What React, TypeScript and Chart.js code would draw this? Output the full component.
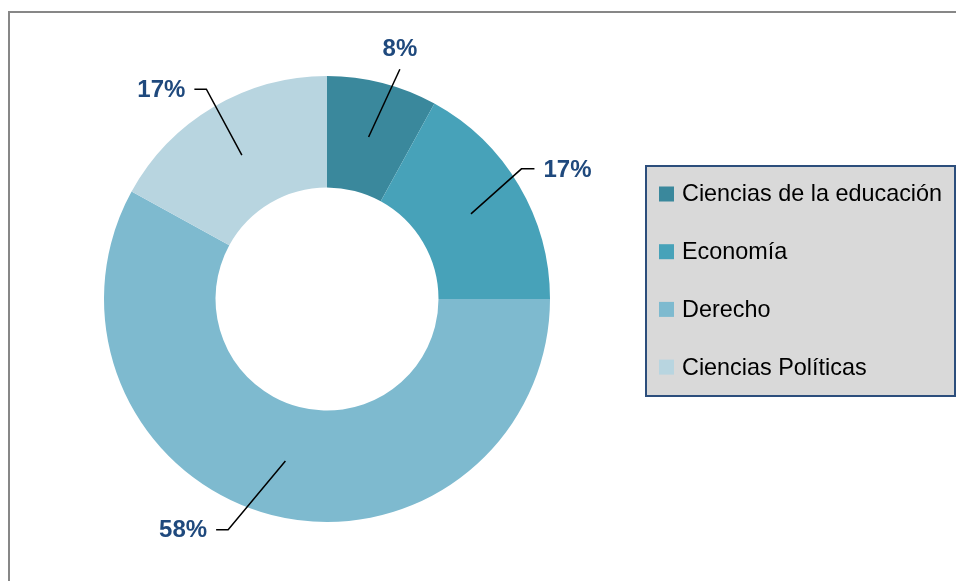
import React, { useEffect, useRef } from "react";
import { Chart, registerables } from "chart.js";

Chart.register(...registerables);

const categories = ["Ciencias de la educación", "Economía", "Derecho", "Ciencias Políticas"];
const shares = [8, 17, 58, 17];
const colors = ["#3A889C", "#47A2B9", "#7EBACF", "#B8D5E0"];

// label layout (polar elbow offsets relative to slice middle)
const labelAngleShift = [3.2, -3.2, 8.8, 0.7];
const labelRadius = [241, 234, 251, 242];
const labelSide = ["top", "right", "left", "left"];

const W = 956;
const H = 581;

const framePlugin = {
  id: "frame",
  beforeDraw(chart: any) {
    const ctx = chart.ctx;
    ctx.save();
    ctx.fillStyle = "#ffffff";
    ctx.fillRect(0, 0, W, H);
    ctx.strokeStyle = "#878787";
    ctx.lineWidth = 2;
    ctx.strokeRect(9, 12, 2000, 2000);
    ctx.restore();
  },
};

const labelsPlugin = {
  id: "sliceLabels",
  afterDatasetsDraw(chart: any) {
    const ctx = chart.ctx;
    const meta = chart.getDatasetMeta(0);
    ctx.save();
    meta.data.forEach((arc: any, i: number) => {
      const { x, y, startAngle, endAngle, innerRadius, outerRadius } = arc.getProps(
        ["x", "y", "startAngle", "endAngle", "innerRadius", "outerRadius"],
        true
      );
      const mid = (startAngle + endAngle) / 2;
      const rIn = (innerRadius + outerRadius) / 2;
      const p0x = x + Math.cos(mid) * rIn;
      const p0y = y + Math.sin(mid) * rIn;
      const a2 = mid + (labelAngleShift[i] * Math.PI) / 180;
      const ex = x + Math.cos(a2) * labelRadius[i];
      const ey = y + Math.sin(a2) * labelRadius[i];
      ctx.strokeStyle = "#000000";
      ctx.lineWidth = 1.5;
      ctx.beginPath();
      ctx.moveTo(p0x, p0y);
      ctx.lineTo(ex, ey);
      let tx = ex;
      let ty = ey;
      const side = labelSide[i];
      if (side === "right") {
        ctx.lineTo(ex + 13, ey);
        tx = ex + 22;
        ty = ey + 2;
      } else if (side === "left") {
        ctx.lineTo(ex - 12, ey);
        tx = ex - 21;
        ty = ey + 1;
      } else {
        tx = ex;
        ty = ey - 20;
      }
      ctx.stroke();
      ctx.fillStyle = "#1F497D";
      ctx.font = "bold 24px 'Liberation Sans', Arial, sans-serif";
      ctx.textBaseline = "middle";
      ctx.textAlign = side === "right" ? "left" : side === "left" ? "right" : "center";
      ctx.fillText(`${shares[i]}%`, tx, ty);
    });
    ctx.restore();
  },
};

const legendPlugin = {
  id: "boxLegend",
  afterDraw(chart: any) {
    const ctx = chart.ctx;
    ctx.save();
    const bx = 646, by = 166, bw = 309, bh = 230;
    ctx.fillStyle = "#D9D9D9";
    ctx.fillRect(bx, by, bw, bh);
    ctx.strokeStyle = "#2C4E7C";
    ctx.lineWidth = 2;
    ctx.strokeRect(bx, by, bw, bh);
    ctx.font = "23.4px 'Liberation Sans', Arial, sans-serif";
    ctx.textBaseline = "middle";
    ctx.textAlign = "left";
    categories.forEach((c, i) => {
      const cy = 194 + i * 57.7;
      ctx.fillStyle = colors[i];
      ctx.fillRect(659, cy - 7.5, 15, 15);
      ctx.fillStyle = "#000000";
      ctx.fillText(c, 682, cy + 1);
    });
    ctx.restore();
  },
};

export default function App() {
  const ref = useRef<HTMLCanvasElement | null>(null);
  useEffect(() => {
    document.body.style.margin = "0";
    if (!ref.current) return;
    const chart = new Chart(ref.current, {
      type: "doughnut",
      data: {
        labels: categories,
        datasets: [
          {
            data: shares,
            backgroundColor: colors,
            borderWidth: 0,
            hoverOffset: 0,
          },
        ],
      },
      options: {
        responsive: false,
        animation: false,
        cutout: "50%",
        layout: { padding: { left: 104, right: 406, top: 76, bottom: 59 } },
        plugins: {
          legend: { display: false },
          tooltip: { enabled: false },
        },
        events: [],
      },
      plugins: [framePlugin, labelsPlugin, legendPlugin],
    });
    return () => chart.destroy();
  }, []);
  return <canvas ref={ref} width={W} height={H} style={{ display: "block", width: W, height: H }} />;
}
